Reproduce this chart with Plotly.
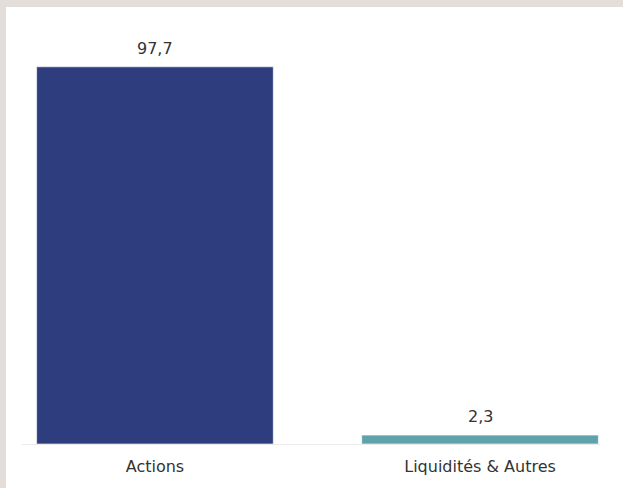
import plotly.graph_objects as go

categories = ["Actions", "Liquidités & Autres"]
values = [97.7, 2.3]
colors = ["#2e3d7e", "#5fa2ab"]
labels = [f"{v:.1f}".replace(".", ",") for v in values]

W, H = 623, 488
ML, MR, MT, MB = 22, 23, 20, 42
plot_w = W - ML - MR
plot_h = H - MT - MB

fig = go.Figure()
fig.add_trace(go.Bar(
    x=categories, y=values,
    marker=dict(color=colors, line=dict(color="rgba(255,255,255,0.6)", width=1)),
    hoverinfo="skip",
))

for c, v, t in zip(categories, values, labels):
    fig.add_annotation(x=c, y=v, text=t, showarrow=False, yanchor="bottom",
                       yshift=7, font=dict(family="DejaVu Sans", size=16, color="#333333"))

# white panel over beige page background
fig.add_shape(type="rect", xref="paper", yref="paper",
              x0=(6 - ML) / plot_w, x1=(W + 20 - ML) / plot_w,
              y0=-0.3, y1=(H - MB - 7) / plot_h,
              fillcolor="#ffffff", line=dict(width=0), layer="below")

fig.update_layout(
    width=W, height=H,
    margin=dict(l=ML, r=MR, t=MT, b=MB, pad=0),
    paper_bgcolor="#e3deda",
    plot_bgcolor="rgba(0,0,0,0)",
    bargap=0.272,
    showlegend=False,
    font=dict(family="DejaVu Sans", size=16, color="#333333"),
    xaxis=dict(range=[-0.409, 1.369], showline=True, linecolor="#ebebeb", linewidth=1,
               showgrid=False, zeroline=False, ticks="", ticklabelstandoff=8,
               tickfont=dict(size=16, color="#333333"), fixedrange=True),
    yaxis=dict(range=[0, plot_h / 3.879], visible=False, showgrid=False, zeroline=False,
               fixedrange=True),
)

fig.write_html("out.html", config={"displayModeBar": False},
               post_script="document.body.style.margin='0';document.body.style.overflow='hidden';")
